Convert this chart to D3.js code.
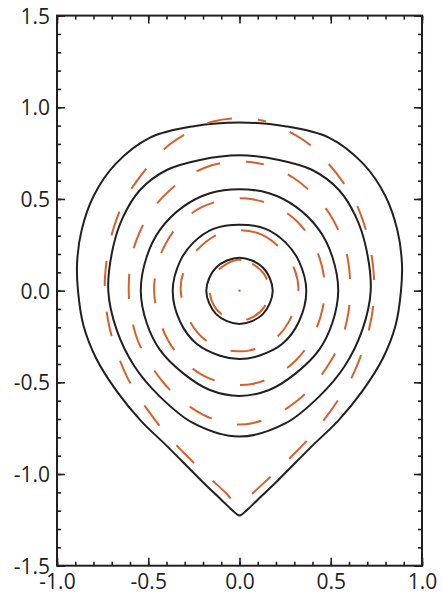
<!DOCTYPE html>
<html>
<head>
<meta charset="utf-8">
<script src="https://cdn.jsdelivr.net/npm/d3@7"></script>
<style>
  html, body { margin: 0; padding: 0; background: #fff; }
  svg { display: block; }
  .tick text { font-family: "Open Sans", "Noto Sans", sans-serif; font-size: 21px; fill: #231f20; }
</style>
</head>
<body>
<div id="chart"></div>
<script>
// axis ticks and labels
const xTicks = [-1.0, -0.5, 0.0, 0.5, 1.0];
const xTickLabels = ['-1.0', '-0.5', '0.0', '0.5', '1.0'];
const yTicks = [-1.5, -1.0, -0.5, 0.0, 0.5, 1.0, 1.5];
const yTickLabels = ['-1.5', '-1.0', '-0.5', '0.0', '0.5', '1.0', '1.5'];

// solid contours, right half (x >= 0), from top down to bottom; mirrored for the left half
const solid1 = [[0, 0.917], [0.25, 0.897], [0.49, 0.835], [0.68, 0.69], [0.80, 0.515], [0.865, 0.33],
  [0.89, 0.15], [0.885, 0.0], [0.855, -0.19], [0.785, -0.37], [0.675, -0.545], [0.54, -0.71],
  [0.40, -0.845], [0.21, -1.035], [0.10, -1.14], [0.04, -1.197], [0, -1.226]];
const solid2 = [[0, 0.738], [0.216, 0.713], [0.399, 0.658], [0.545, 0.549], [0.637, 0.404], [0.692, 0.24],
  [0.719, 0.0], [0.673, -0.214], [0.575, -0.414], [0.436, -0.578], [0.253, -0.723], [0, -0.796]];
const solid3 = [[0, 0.553], [0.162, 0.531], [0.308, 0.458], [0.436, 0.331], [0.508, 0.186], [0.541, 0.0],
  [0.508, -0.178], [0.436, -0.323], [0.308, -0.451], [0.162, -0.542], [0, -0.574]];
const solid4 = [[0, 0.36], [0.143, 0.337], [0.253, 0.262], [0.326, 0.16], [0.366, 0.0], [0.326, -0.168],
  [0.235, -0.29], [0.107, -0.355], [0, -0.373]];
const solid5 = [[0, 0.18], [0.128, 0.126], [0.182, 0.0], [0.128, -0.128], [0, -0.182]];

// dashed contours, same layout
const dashed1 = [[0, 0.94], [0.145, 0.922], [0.253, 0.877], [0.38, 0.80], [0.474, 0.708], [0.567, 0.592],
  [0.635, 0.483], [0.69, 0.34], [0.72, 0.217], [0.737, 0.07], [0.735, -0.06], [0.71, -0.211],
  [0.673, -0.333], [0.615, -0.473], [0.549, -0.584], [0.463, -0.705], [0.381, -0.805], [0.275, -0.914],
  [0.18, -1.006], [0.075, -1.103], [0.035, -1.145], [0, -1.155]];
const dashed2 = [[0, 0.704], [0.085, 0.698], [0.184, 0.673], [0.299, 0.613], [0.414, 0.517], [0.494, 0.418],
  [0.563, 0.28], [0.596, 0.158], [0.607, 0.0], [0.596, -0.123], [0.56, -0.265], [0.5, -0.384],
  [0.414, -0.505], [0.321, -0.596], [0.198, -0.678], [0.07, -0.723], [0, -0.73]];
const dashed3 = [[0, 0.504], [0.07, 0.499], [0.207, 0.455], [0.317, 0.376], [0.403, 0.259], [0.45, 0.14],
  [0.468, 0.0], [0.445, -0.138], [0.39, -0.273], [0.311, -0.378], [0.195, -0.465], [0.07, -0.509], [0, -0.515]];
const dashed4 = [[0, 0.33], [0.125, 0.304], [0.24, 0.213], [0.304, 0.109], [0.322, 0.0], [0.271, -0.169],
  [0.176, -0.278], [0.052, -0.327], [0, -0.33]];
const dashed5 = [[0, 0.168], [0.07, 0.146], [0.135, 0.09], [0.163, 0.0], [0.134, -0.091], [0.07, -0.146], [0, -0.165]];

const axisPoint = [0, 0];

const solidContours = [solid1, solid2, solid3, solid4, solid5];
const dashedContours = [dashed1, dashed2, dashed3, dashed4, dashed5];
// where each dashed line is in its dash pattern at the top of the contour
const dashPhase = [25, 16, 13, 6, 3];

const W = 442, H = 595;
const svg = d3.select('#chart').append('svg')
  .attr('width', W)
  .attr('height', H);

const x = d3.scaleLinear().domain([-1, 1]).range([57, 422]);
const y = d3.scaleLinear().domain([-1.5, 1.5]).range([565.7, 15.6]);

// full closed outline from a right half
function closeShape(half) {
  const left = half.slice(1, -1).reverse().map(([px, py]) => [-px, py]);
  return half.concat(left);
}

const line = d3.line()
  .x(d => x(d[0]))
  .y(d => y(d[1]))
  .curve(d3.curveCatmullRomClosed.alpha(0.5));

const orange = '#d95f2b';

// solid contours
svg.append('g')
  .selectAll('path')
  .data(solidContours)
  .join('path')
  .attr('d', d => line(closeShape(d)))
  .attr('fill', 'none')
  .attr('stroke', '#231f20')
  .attr('stroke-width', 2);

// dashed contours
svg.append('g')
  .selectAll('path')
  .data(dashedContours)
  .join('path')
  .attr('d', d => line(closeShape(d)))
  .attr('fill', 'none')
  .attr('stroke', orange)
  .attr('stroke-width', 2)
  .attr('stroke-dasharray', '25,26')
  .attr('stroke-dashoffset', (d, i) => dashPhase[i]);

svg.append('circle')
  .attr('cx', x(axisPoint[0]))
  .attr('cy', y(axisPoint[1]))
  .attr('r', 1.2)
  .attr('fill', orange);

// axes: major ticks with labels, minor ticks without, all pointing inward
const x0 = x.range()[0], x1 = x.range()[1];
const y0 = y.range()[0], y1 = y.range()[1];

function styleAxis(g) {
  g.select('.domain').remove();
  g.selectAll('.tick line').attr('stroke', '#231f20').attr('stroke-width', 1.6);
}

svg.append('g')
  .attr('transform', `translate(0,${y0})`)
  .call(d3.axisBottom(x).tickValues(xTicks).tickSizeInner(-8)
    .tickFormat((d, i) => xTickLabels[i]))
  .call(styleAxis)
  .call(g => g.selectAll('.tick text').attr('y', 23.8).attr('dy', 0));

svg.append('g')
  .attr('transform', `translate(0,${y0})`)
  .call(d3.axisBottom(x).ticks(20).tickSizeInner(-4).tickFormat(''))
  .call(styleAxis);

svg.append('g')
  .attr('transform', `translate(0,${y1})`)
  .call(d3.axisTop(x).tickValues(xTicks).tickSizeInner(-8).tickFormat(''))
  .call(styleAxis);

svg.append('g')
  .attr('transform', `translate(0,${y1})`)
  .call(d3.axisTop(x).ticks(20).tickSizeInner(-4).tickFormat(''))
  .call(styleAxis);

svg.append('g')
  .attr('transform', `translate(${x0},0)`)
  .call(d3.axisLeft(y).tickValues(yTicks).tickSizeInner(-8).tickPadding(7)
    .tickFormat((d, i) => yTickLabels[i]))
  .call(styleAxis)
  .call(g => g.selectAll('.tick text').attr('dy', '0.36em'));

svg.append('g')
  .attr('transform', `translate(${x0},0)`)
  .call(d3.axisLeft(y).ticks(30).tickSizeInner(-4).tickFormat(''))
  .call(styleAxis);

svg.append('g')
  .attr('transform', `translate(${x1},0)`)
  .call(d3.axisRight(y).tickValues(yTicks).tickSizeInner(-8).tickFormat(''))
  .call(styleAxis);

svg.append('g')
  .attr('transform', `translate(${x1},0)`)
  .call(d3.axisRight(y).ticks(30).tickSizeInner(-4).tickFormat(''))
  .call(styleAxis);

// frame
svg.append('rect')
  .attr('x', x0)
  .attr('y', y1)
  .attr('width', x1 - x0)
  .attr('height', y0 - y1)
  .attr('fill', 'none')
  .attr('stroke', '#231f20')
  .attr('stroke-width', 2);
</script>
</body>
</html>
